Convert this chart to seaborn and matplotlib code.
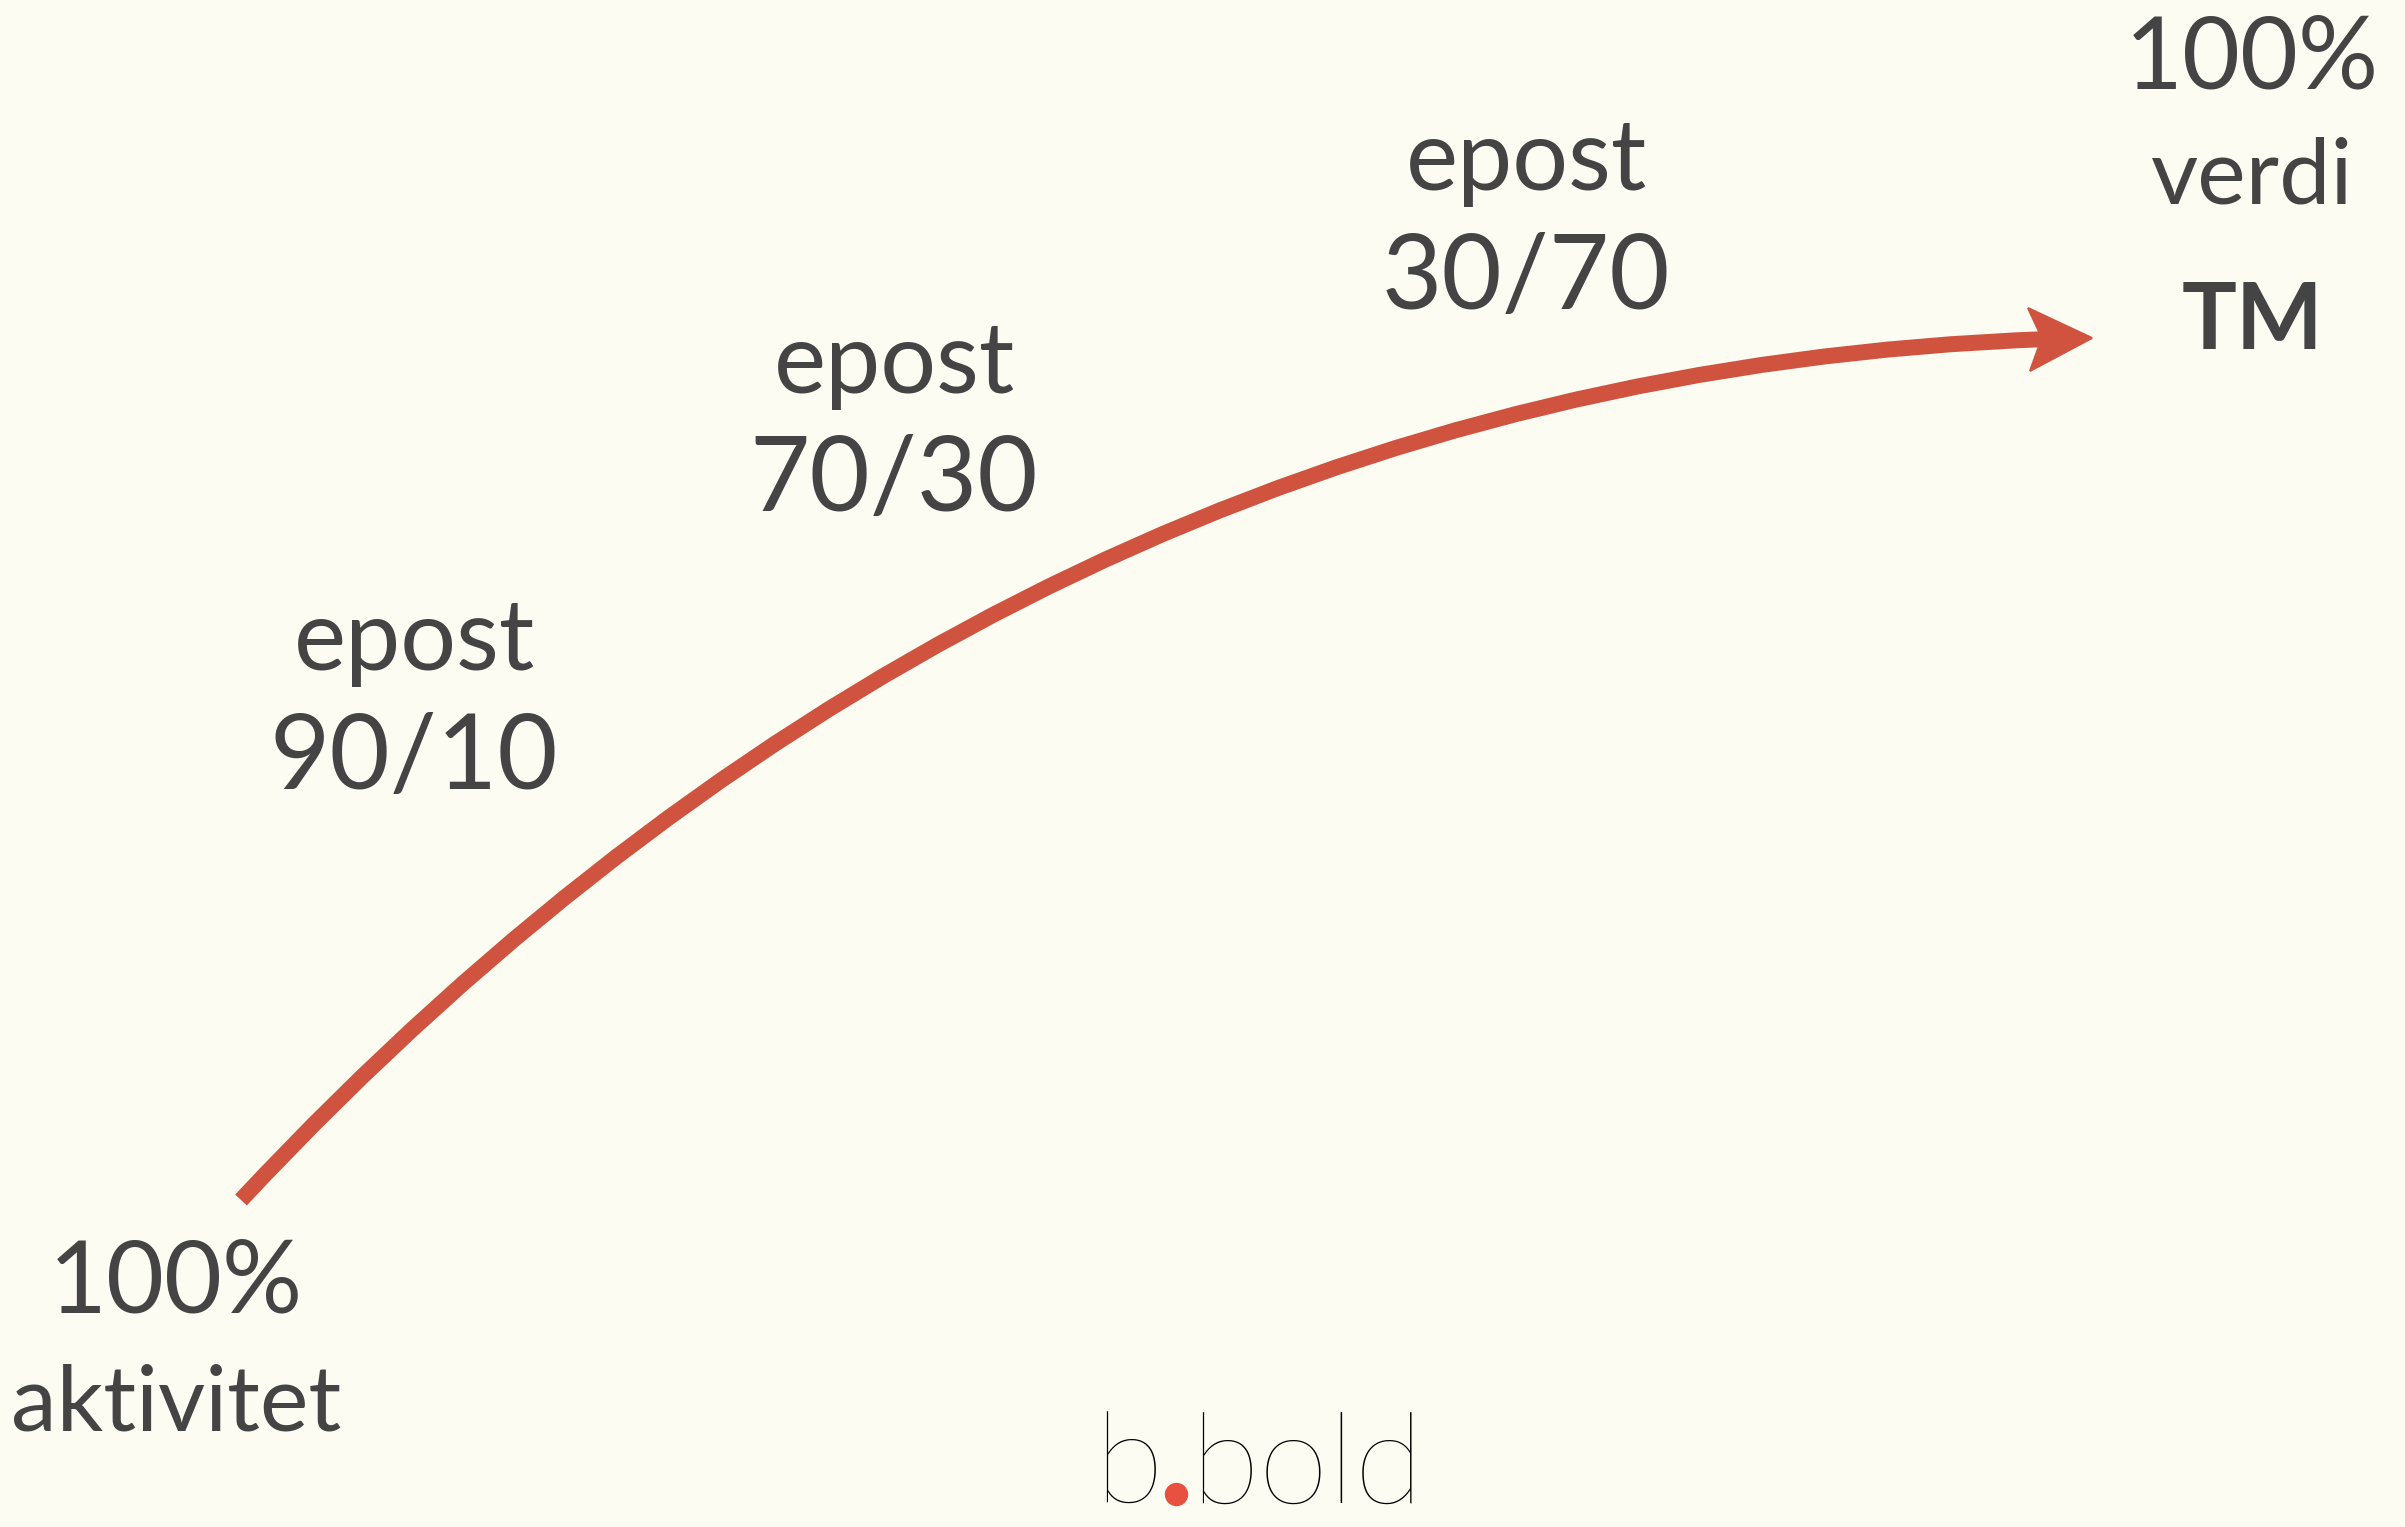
"""
Aktivitet -> verdi: a curved arrow through the stages of epost mix.
"""

import matplotlib.pyplot as plt
import seaborn as sns
from matplotlib.patches import PathPatch, Polygon
from matplotlib.path import Path

# Data
stage_titles = ["epost", "epost", "epost"]
stage_splits = ["90/10", "70/30", "30/70"]
start_labels = ["100%", "aktivitet"]
end_labels = ["100%", "verdi", "TM"]
brand = ["b", "bold"]

# Layout (pixel space of the 2405x1527 canvas, y down)
W, H = 2405, 1527
stage_xy = [(414, 642), (894, 365), (1526, 162)]
split_dy = 117
start_xy = [(176, 1284), (176, 1405)]
end_xy = [(2252, 60), (2252, 178), (2252, 323)]
arrow_from = (241, 1200)
arrow_bend = (1010, 376)
arrow_to = (2092, 338)
# arrowhead outline relative to the tip (notched head)
head_shape = [(0, 0), (-64, -30), (-50, 0), (-62, 33)]

BG = "#FCFCF3"
INK = "#444444"
RED = "#CF533F"

sns.set_theme(style="white", rc={"axes.facecolor": BG, "figure.facecolor": BG})
plt.rcParams["font.family"] = ["Lato", "DejaVu Sans"]

fig = plt.figure(figsize=(W / 100, H / 100), dpi=100)
ax = fig.add_axes([0, 0, 1, 1])
ax.set_xlim(0, W)
ax.set_ylim(H, 0)
ax.set_axis_off()

# curved shaft, ends in the notch of the head
notch = (arrow_to[0] + head_shape[2][0] + 6, arrow_to[1] + 1)
shaft = Path([arrow_from, arrow_bend, notch], [Path.MOVETO, Path.CURVE3, Path.CURVE3])
ax.add_patch(PathPatch(shaft, fill=False, lw=11.5, edgecolor=RED, capstyle="butt"))
head = [(arrow_to[0] + dx, arrow_to[1] + dy) for dx, dy in head_shape]
ax.add_patch(Polygon(head, closed=True, facecolor=RED, edgecolor=RED, lw=1.5))

# stage labels
for title, split, (x, y) in zip(stage_titles, stage_splits, stage_xy):
    ax.text(x, y, title, ha="center", va="center", fontsize=71, color=INK)
    ax.text(x, y + split_dy, split, ha="center", va="center", fontsize=75, color=INK)

for lab, (x, y) in zip(start_labels, start_xy):
    ax.text(x, y, lab, ha="center", va="center",
            fontsize=72 if "%" in lab else 66, color=INK)

for lab, (x, y) in zip(end_labels, end_xy):
    ax.text(x, y, lab, ha="center", va="center",
            fontsize=72 if "%" in lab else 66, color=INK,
            fontweight="bold" if lab == "TM" else "normal")

# logo (kept just inside the bottom edge)
ax.text(1163, 1503, brand[0], ha="right", va="baseline", fontsize=91,
        fontweight="light", color="black")
ax.text(1190, 1503, brand[1], ha="left", va="baseline", fontsize=91,
        fontweight="light", color="black")
ax.scatter([1176], [1494], s=250, color="#E8513F", zorder=3)

fig.savefig("out.png", dpi=100, facecolor=BG)
